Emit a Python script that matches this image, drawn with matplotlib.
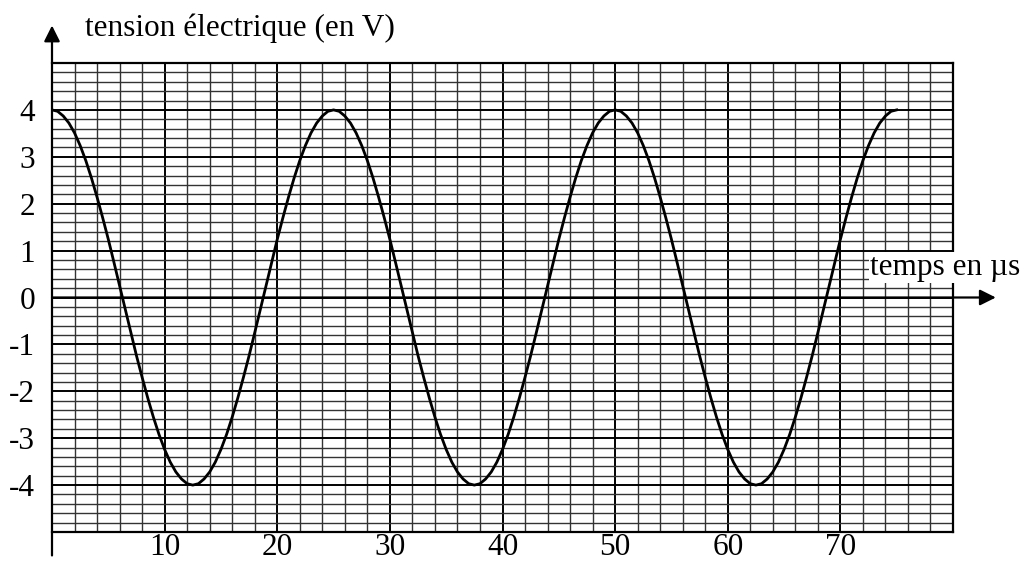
import numpy as np
import matplotlib.pyplot as plt

# Voltage, one value every 0.5 µs from 0 to 75 µs.
time_us = np.arange(0, 75.5, 0.5)
voltage_v = [
    4.00, 3.97, 3.87, 3.72, 3.51, 3.24, 2.92, 2.55, 2.14, 1.70,
    1.24, 0.75, 0.25, -0.25, -0.75, -1.24, -1.70, -2.14, -2.55, -2.92,
    -3.24, -3.51, -3.72, -3.87, -3.97, -4.00, -3.97, -3.87, -3.72, -3.51,
    -3.24, -2.92, -2.55, -2.14, -1.70, -1.24, -0.75, -0.25, 0.25, 0.75,
    1.24, 1.70, 2.14, 2.55, 2.92, 3.24, 3.51, 3.72, 3.87, 3.97,
    4.00, 3.97, 3.87, 3.72, 3.51, 3.24, 2.92, 2.55, 2.14, 1.70,
    1.24, 0.75, 0.25, -0.25, -0.75, -1.24, -1.70, -2.14, -2.55, -2.92,
    -3.24, -3.51, -3.72, -3.87, -3.97, -4.00, -3.97, -3.87, -3.72, -3.51,
    -3.24, -2.92, -2.55, -2.14, -1.70, -1.24, -0.75, -0.25, 0.25, 0.75,
    1.24, 1.70, 2.14, 2.55, 2.92, 3.24, 3.51, 3.72, 3.87, 3.97,
    4.00, 3.97, 3.87, 3.72, 3.51, 3.24, 2.92, 2.55, 2.14, 1.70,
    1.24, 0.75, 0.25, -0.25, -0.75, -1.24, -1.70, -2.14, -2.55, -2.92,
    -3.24, -3.51, -3.72, -3.87, -3.97, -4.00, -3.97, -3.87, -3.72, -3.51,
    -3.24, -2.92, -2.55, -2.14, -1.70, -1.24, -0.75, -0.25, 0.25, 0.75,
    1.24, 1.70, 2.14, 2.55, 2.92, 3.24, 3.51, 3.72, 3.87, 3.97,
    4.00,
]

# Tick labels written beside the graph paper.
y_tick_labels = [4, 3, 2, 1, 0, -1, -2, -3, -4]
x_tick_labels = [10, 20, 30, 40, 50, 60, 70]

y_axis_title = "tension électrique (en V)"
x_axis_title = "temps en µs"

plt.rcParams["font.family"] = ["Liberation Serif", "DejaVu Serif"]

fig = plt.figure(figsize=(10.21, 5.66), dpi=100)
ax = fig.add_axes([52 / 1021, 1 - 532 / 566, 901 / 1021, 469 / 566])
ax.set_xlim(0, 80)
ax.set_ylim(-5, 5)

# Graph paper: fine lines every 2 µs and 0.2 V, stronger lines every volt.
ax.set_xticks(np.arange(0, 81, 10))
ax.set_xticks(np.arange(0, 81, 2), minor=True)
ax.set_yticks(np.arange(-5, 6, 1))
ax.set_yticks(np.arange(-5, 5.01, 0.2), minor=True)
ax.grid(which="minor", color="#333333", linewidth=1.0)
ax.grid(which="major", color="black", linewidth=1.4)
ax.tick_params(which="both", length=0, labelbottom=False, labelleft=False)
ax.set_axisbelow(True)

for side in ["top", "right", "bottom"]:
    ax.spines[side].set_linewidth(1.6)
ax.spines["left"].set_visible(False)

# The measured signal.
ax.plot(time_us, voltage_v, color="black", linewidth=2.0, zorder=3)

# Axes with arrow heads, drawn past the paper.
ax.annotate("", xy=(0, 5.8), xytext=(0, -5.5), annotation_clip=False,
            arrowprops=dict(arrowstyle="-|>", color="black", lw=1.6,
                            mutation_scale=24, shrinkA=0, shrinkB=0))
ax.annotate("", xy=(83.8, 0), xytext=(0, 0), annotation_clip=False,
            arrowprops=dict(arrowstyle="-|>", color="black", lw=1.6,
                            mutation_scale=24, shrinkA=0, shrinkB=0))

for value in y_tick_labels:
    ax.text(-1.5, value, str(value), ha="right", va="center_baseline",
            fontsize=22.5, clip_on=False)
for value in x_tick_labels:
    ax.text(value, -5.5, str(value), ha="center", va="baseline",
            fontsize=22.5, clip_on=False)

ax.text(2.9, 5.58, y_axis_title, ha="left", va="baseline",
        fontsize=22.5, clip_on=False)
ax.text(72.6, 0.48, x_axis_title, ha="left", va="baseline",
        fontsize=22.5, clip_on=False, zorder=4,
        bbox=dict(boxstyle="square,pad=0.02", facecolor="white", edgecolor="none"))

fig.savefig("out.png", dpi=100)
